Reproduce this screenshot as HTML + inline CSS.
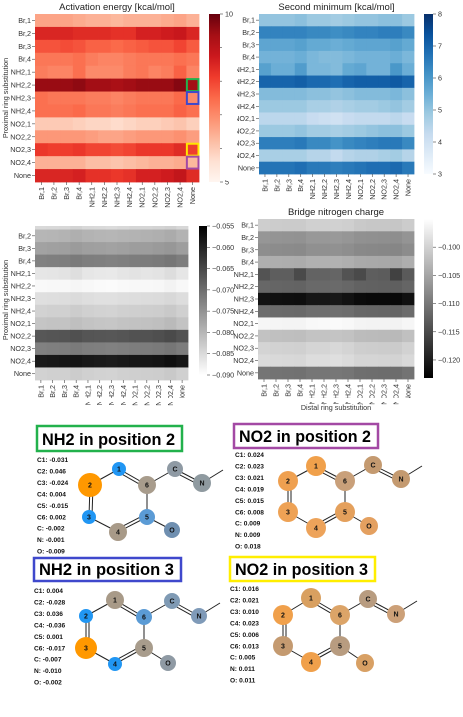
<!DOCTYPE html>
<html><head><meta charset="utf-8">
<style>
html,body{margin:0;padding:0;background:#fff;}
svg{display:block;font-family:"Liberation Sans",sans-serif;}
.t{font-size:7.2px;fill:#333;}
.ttl{font-size:9.5px;fill:#222;}
.q{font-size:6.6px;font-weight:bold;fill:#111;}
.hd{font-size:17px;font-weight:bold;fill:#000;}
.an{font-size:7px;font-weight:bold;fill:#111;}
</style></head>
<body>
<svg id="fig" width="463" height="717" viewBox="0 0 463 717" xmlns="http://www.w3.org/2000/svg"></svg>
<script>
const labels = ["Br,1","Br,2","Br,3","Br,4","NH2,1","NH2,2","NH2,3","NH2,4","NO2,1","NO2,2","NO2,3","NO2,4","None"];
// Activation energy [kcal/mol]
const actE = [
[6.6,6.6,6.6,6.5,6.4,6.4,6.3,6.4,6.4,6.4,6.5,6.6,6.4],
[8.5,8.5,8.5,8.4,8.4,8.4,8.3,8.3,8.6,8.6,8.7,8.8,8.5],
[7.8,7.8,7.9,7.8,7.6,7.6,7.5,7.6,7.7,7.8,7.8,8.0,7.7],
[7.3,7.3,7.3,7.4,7.2,7.1,7.1,7.2,7.3,7.3,7.3,7.4,7.3],
[7.2,7.1,7.1,7.4,7.0,7.0,7.0,7.2,7.3,7.1,7.2,7.6,7.1],
[9.5,9.5,9.5,9.6,9.4,9.4,9.3,9.4,9.5,9.5,9.5,9.7,9.4],
[7.4,7.3,7.3,7.3,7.2,7.2,7.1,7.2,7.3,7.3,7.3,7.5,7.0],
[7.4,7.4,7.4,7.5,7.3,7.3,7.2,7.3,7.4,7.4,7.4,7.6,7.4],
[6.0,6.0,6.0,5.9,5.8,5.8,5.7,5.8,5.9,5.9,6.0,6.1,5.9],
[6.8,6.8,6.8,6.8,6.7,6.6,6.6,6.7,6.8,6.8,6.8,6.9,6.7],
[8.2,8.1,8.1,8.2,8.0,8.0,7.9,8.0,8.2,8.2,8.2,8.4,8.1],
[6.4,6.4,6.4,6.4,6.2,6.2,6.1,6.2,6.3,6.4,6.4,6.5,6.3],
[8.5,8.5,8.5,8.6,8.3,8.3,8.2,8.3,8.6,8.6,8.7,8.9,8.4]];
// Second minimum [kcal/mol]
const secMin = [
[5.0,5.0,5.0,5.1,4.9,4.9,4.8,4.9,5.0,5.0,5.1,5.1,4.9],
[6.4,6.4,6.4,6.4,6.3,6.3,6.2,6.3,6.4,6.4,6.5,6.5,6.3],
[5.7,5.7,5.7,5.8,5.6,5.6,5.5,5.6,5.7,5.7,5.7,5.8,5.6],
[5.4,5.4,5.4,5.5,5.3,5.2,5.2,5.3,5.4,5.4,5.4,5.5,5.3],
[5.8,5.5,5.5,5.9,5.3,5.3,5.2,5.6,5.7,5.4,5.4,6.0,5.5],
[7.0,7.0,7.0,7.1,6.9,6.9,6.8,7.0,7.1,7.1,7.1,7.2,7.0],
[5.2,5.2,5.2,5.2,5.1,5.1,5.0,5.1,5.2,5.2,5.2,5.3,5.1],
[4.9,4.9,4.9,4.9,4.7,4.7,4.6,4.7,4.8,4.8,4.9,5.0,4.8],
[4.4,4.4,4.4,4.4,4.2,4.1,4.0,4.2,4.3,4.3,4.3,4.4,4.2],
[4.9,4.9,4.9,5.0,4.8,4.8,4.7,4.8,4.9,5.0,5.1,5.1,4.9],
[6.5,6.5,6.5,6.6,6.3,6.3,6.1,6.3,6.4,6.5,6.6,6.6,6.3],
[4.7,4.7,4.7,4.7,4.5,4.5,4.3,4.5,4.6,4.6,4.7,4.8,4.5],
[6.7,6.7,6.7,6.8,6.6,6.6,6.5,6.6,6.7,6.8,6.8,6.9,6.6]];
// Unlabeled (middle-left) charge
const chargeA = [
[-0.0848,-0.0846,-0.0845,-0.0840,-0.0846,-0.0848,-0.0850,-0.0846,-0.0843,-0.0842,-0.0840,-0.0835,-0.0845],
[-0.0800,-0.0798,-0.0796,-0.0790,-0.0796,-0.0798,-0.0800,-0.0797,-0.0795,-0.0793,-0.0790,-0.0785,-0.0795],
[-0.0772,-0.0770,-0.0768,-0.0763,-0.0768,-0.0770,-0.0772,-0.0769,-0.0766,-0.0765,-0.0762,-0.0757,-0.0767],
[-0.0727,-0.0725,-0.0723,-0.0718,-0.0723,-0.0725,-0.0727,-0.0724,-0.0721,-0.0720,-0.0717,-0.0712,-0.0722],
[-0.0866,-0.0864,-0.0862,-0.0855,-0.0866,-0.0868,-0.0870,-0.0864,-0.0862,-0.0864,-0.0862,-0.0853,-0.0866],
[-0.0892,-0.0891,-0.0890,-0.0887,-0.0891,-0.0893,-0.0895,-0.0892,-0.0890,-0.0890,-0.0889,-0.0884,-0.0890],
[-0.0856,-0.0855,-0.0854,-0.0850,-0.0855,-0.0857,-0.0858,-0.0855,-0.0853,-0.0852,-0.0850,-0.0846,-0.0854],
[-0.0838,-0.0836,-0.0835,-0.0830,-0.0836,-0.0838,-0.0840,-0.0836,-0.0834,-0.0833,-0.0831,-0.0826,-0.0835],
[-0.0820,-0.0818,-0.0817,-0.0812,-0.0818,-0.0820,-0.0822,-0.0818,-0.0816,-0.0815,-0.0812,-0.0805,-0.0817],
[-0.0670,-0.0667,-0.0665,-0.0660,-0.0666,-0.0668,-0.0670,-0.0666,-0.0663,-0.0662,-0.0658,-0.0652,-0.0662],
[-0.0727,-0.0725,-0.0723,-0.0718,-0.0723,-0.0725,-0.0727,-0.0724,-0.0721,-0.0720,-0.0717,-0.0712,-0.0722],
[-0.0585,-0.0583,-0.0580,-0.0577,-0.0583,-0.0585,-0.0588,-0.0584,-0.0581,-0.0580,-0.0577,-0.0570,-0.0580],
[-0.0838,-0.0836,-0.0835,-0.0830,-0.0836,-0.0838,-0.0840,-0.0836,-0.0834,-0.0833,-0.0831,-0.0826,-0.0835]];
// Bridge nitrogen charge
const bridgeN = [
[-0.1004,-0.1006,-0.1007,-0.1008,-0.1002,-0.1002,-0.1001,-0.1003,-0.1010,-0.1012,-0.1012,-0.1013,-0.1006],
[-0.1066,-0.1068,-0.1069,-0.1070,-0.1064,-0.1064,-0.1063,-0.1066,-0.1072,-0.1073,-0.1074,-0.1075,-0.1068],
[-0.1075,-0.1077,-0.1078,-0.1079,-0.1073,-0.1073,-0.1072,-0.1075,-0.1081,-0.1082,-0.1083,-0.1084,-0.1077],
[-0.1038,-0.1040,-0.1041,-0.1042,-0.1036,-0.1036,-0.1035,-0.1038,-0.1044,-0.1045,-0.1046,-0.1047,-0.1040],
[-0.1140,-0.1128,-0.1128,-0.1150,-0.1122,-0.1122,-0.1120,-0.1140,-0.1150,-0.1128,-0.1130,-0.1160,-0.1133],
[-0.1118,-0.1120,-0.1121,-0.1122,-0.1116,-0.1116,-0.1115,-0.1118,-0.1124,-0.1125,-0.1126,-0.1127,-0.1120],
[-0.1212,-0.1214,-0.1215,-0.1216,-0.1208,-0.1208,-0.1205,-0.1212,-0.1220,-0.1222,-0.1222,-0.1223,-0.1214],
[-0.1112,-0.1114,-0.1115,-0.1116,-0.1110,-0.1110,-0.1109,-0.1112,-0.1118,-0.1119,-0.1120,-0.1121,-0.1114],
[-0.0960,-0.0961,-0.0962,-0.0962,-0.0958,-0.0957,-0.0956,-0.0958,-0.0962,-0.0963,-0.0963,-0.0964,-0.0960],
[-0.1018,-0.1020,-0.1021,-0.1022,-0.1016,-0.1016,-0.1015,-0.1018,-0.1024,-0.1025,-0.1026,-0.1027,-0.1020],
[-0.0998,-0.1000,-0.1001,-0.1002,-0.0996,-0.0996,-0.0993,-0.0998,-0.1004,-0.1005,-0.1006,-0.1007,-0.1000],
[-0.0990,-0.0992,-0.0993,-0.0994,-0.0988,-0.0988,-0.0985,-0.0990,-0.0996,-0.0997,-0.0998,-0.0999,-0.0992],
[-0.1103,-0.1105,-0.1106,-0.1107,-0.1101,-0.1101,-0.1100,-0.1103,-0.1109,-0.1110,-0.1111,-0.1112,-0.1105]];
const actTicks = [5,6,7,8,9,10];
const secTicks = [3,4,5,6,7,8];
const chATicks = [-0.055,-0.060,-0.065,-0.070,-0.075,-0.080,-0.085,-0.090];
const brTicks = [-0.100,-0.105,-0.110,-0.115,-0.120];

const NS="http://www.w3.org/2000/svg";
const svg=document.getElementById('fig');
function mk(tag,attrs,parent){const e=document.createElementNS(NS,tag);for(const k in attrs)e.setAttribute(k,attrs[k]);(parent||svg).appendChild(e);return e;}
function lerpStops(stops,t){t=Math.max(0,Math.min(1,t));const n=stops.length-1;const i=Math.min(n-1,Math.floor(t*n));const f=t*n-i;
 const a=stops[i],b=stops[i+1];const h=s=>[parseInt(s.substr(1,2),16),parseInt(s.substr(3,2),16),parseInt(s.substr(5,2),16)];
 const A=h(a),B=h(b);return 'rgb('+A.map((v,k)=>Math.round(v+(B[k]-v)*f)).join(',')+')';}
const REDS=["#fff5f0","#fee0d2","#fcbba1","#fc9272","#fb6a4a","#ef3b2c","#cb181d","#a50f15","#67000d"];
const BLUES=["#f7fbff","#deebf7","#c6dbef","#9ecae1","#6baed6","#4292c6","#2171b5","#08519c","#08306b"];
const GRAYR=["#ffffff","#000000"];
const GRAY=["#000000","#ffffff"];

function heatmap(cfg){
 const g=mk('g',{});
 
 
 if(cfg.clip){const cp=mk('clipPath',{id:cfg.name+'-clip'},g);mk('rect',{x:0,y:cfg.clip,width:463,height:717},cp);}
 const cells=mk('g',cfg.clip?{'clip-path':'url(#'+cfg.name+'-clip)'}:{},g);
 const nR=cfg.data.length,nC=cfg.data[0].length;
 const cw=(cfg.x1-cfg.x0)/nC,ch=(cfg.y1-cfg.y0)/nR;
 const xS=j=>cfg.x0+j*cw, yS=i=>cfg.y0+i*ch;
 const col=v=>lerpStops(cfg.cmap,(v-cfg.vmin)/(cfg.vmax-cfg.vmin));
 for(let i=0;i<nR;i++)for(let j=0;j<nC;j++){
  const r=mk('rect',{x:xS(j),y:yS(i),width:cw+0.4,height:ch+0.4,fill:col(cfg.data[i][j])},cells);
  
  
 }
 for(let i=0;i<nR;i++){
  const y=yS(i)+ch/2; if(cfg.clip&&y<cfg.clip)continue;
  mk('line',{x1:cfg.x0-3,x2:cfg.x0,y1:y,y2:y,stroke:'#444','stroke-width':0.6},g);
  const t=mk('text',{x:cfg.x0-4,y:y+2.5,'text-anchor':'end',class:'t'},g);t.textContent=labels[i];
  
  
 }
 for(let j=0;j<nC;j++){
  const x=xS(j)+cw/2;
  mk('line',{x1:x,x2:x,y1:cfg.y1,y2:cfg.y1+3,stroke:'#444','stroke-width':0.6},g);
  const t=mk('text',{x:0,y:0,'text-anchor':'end',class:'t',transform:'translate('+(x+2.5)+','+(cfg.y1+5)+') rotate(-90)'},g);t.textContent=labels[j];
  
  
 }
 if(cfg.title){const t=mk('text',{x:(cfg.x0+cfg.x1)/2,y:cfg.y0-4,'text-anchor':'middle',class:'ttl'},g);t.textContent=cfg.title;
  
  }
 const cb=mk('g',{},g);
 
 
 const gid=cfg.name+'-grad';
 const lg=mk('linearGradient',{id:gid,x1:0,y1:1,x2:0,y2:0},cb);
 cfg.cmap.forEach((c,k)=>mk('stop',{offset:k/(cfg.cmap.length-1),'stop-color':c},lg));
 mk('rect',{x:cfg.cbx,y:cfg.cby0,width:cfg.cbw,height:cfg.cby1-cfg.cby0,fill:'url(#'+gid+')'},cb);
 const cy=v=>cfg.cby1-(v-cfg.cbmin)/(cfg.cbmax-cfg.cbmin)*(cfg.cby1-cfg.cby0);
 cfg.ticks.forEach(v=>{const y=cy(v);
  mk('line',{x1:cfg.cbx+cfg.cbw,x2:cfg.cbx+cfg.cbw+3,y1:y,y2:y,stroke:'#444','stroke-width':0.6},cb);
  const t=mk('text',{x:cfg.cbx+cfg.cbw+5,y:y+2.5,class:'t'},cb);t.textContent=cfg.fmt(v);
  
  });
 return {xS,yS,cw,ch};
}
const fmt0=v=>String(v);
const fmt3=v=>'\u2212'+Math.abs(v).toFixed(3);

const h1=heatmap({name:'activation-energy-heatmap',data:actE,cmap:REDS,vmin:5,vmax:10,x0:35,x1:199,y0:14,y1:182,title:'Activation energy [kcal/mol]',
 cbx:209,cbw:11,cby0:14,cby1:182,cbmin:5,cbmax:10,ticks:actTicks,fmt:fmt0});
const h2=heatmap({name:'second-minimum-heatmap',data:secMin,cmap:BLUES,vmin:3,vmax:8,x0:259,x1:414,y0:14,y1:174,title:'Second minimum [kcal/mol]',
 cbx:424,cbw:9,cby0:14,cby1:174,cbmin:3,cbmax:8,ticks:secTicks,fmt:fmt0});
const h3=heatmap({name:'charge-heatmap-left',data:chargeA,cmap:GRAYR,vmin:-0.090,vmax:-0.055,x0:35,x1:188,y0:217,y1:380,clip:226,
 cbx:199,cbw:8,cby0:226,cby1:375,cbmin:-0.090,cbmax:-0.055,ticks:chATicks,fmt:fmt3});
const h4=heatmap({name:'bridge-nitrogen-charge-heatmap',data:bridgeN,cmap:GRAY,vmin:-0.1232,vmax:-0.095,x0:258,x1:414,y0:219,y1:379,title:'Bridge nitrogen charge',
 cbx:424,cbw:9,cby0:219,cby1:378,cbmin:-0.1232,cbmax:-0.095,ticks:brTicks,fmt:fmt3});

mk('rect',{x:222,y:20,width:15,height:160,fill:'#fff'});
mk('rect',{x:0,y:398,width:463,height:4,fill:'#fff'});

[[5,'#22b14c'],[6,'#3f48cc'],[10,'#ffe600'],[11,'#a349a4']].forEach(([r,c])=>{
 const b=mk('rect',{x:h1.xS(12)+0.5,y:h1.yS(r)+0.5,width:h1.cw-1,height:h1.ch-1,fill:'none',stroke:c,'stroke-width':2});
 
 
});

function txt(x,y,s,cls,extra,name){const t=mk('text',Object.assign({x,y,class:cls},extra||{}));t.textContent=s;return t;}
txt(0,0,'Proximal ring substitution','t',{'text-anchor':'middle',transform:'translate(8,98) rotate(-90)'},'y-axis-title');
txt(0,0,'Proximal ring substitution','t',{'text-anchor':'middle',transform:'translate(8,300) rotate(-90)'},'y-axis-title-lower');
txt(336,410,'Distal ring substitution','t',{'text-anchor':'middle'},'x-axis-title');

function molecule(cfg){
 const g=mk('g',{});
 
 
 mk('rect',{x:cfg.box[0],y:cfg.box[1],width:cfg.box[2],height:cfg.box[3],fill:'#fff',stroke:cfg.bc,'stroke-width':2.5},g);
 const h=mk('text',{x:cfg.box[0]+5,y:cfg.box[1]+cfg.box[3]-6,class:'hd',textLength:cfg.box[2]-12,lengthAdjust:'spacingAndGlyphs'},g);h.textContent=cfg.title;
 
 
 cfg.charges.forEach((s,k)=>{const t=mk('text',{x:cfg.tx,y:cfg.ty+k*11.45,class:'q'},g);t.textContent=s;
  
  });
 const A=cfg.atoms;
 const bonds=[['1','2',0],['2','3',1],['3','4',0],['4','5',1],['5','6',0],['6','1',1],['6','C',0],['C','N',1],['5','O',0]];
 bonds.forEach(([a,b,d])=>{
  const p=A[a],q=A[b];
  mk('line',{x1:p[0],y1:p[1],x2:q[0],y2:q[1],stroke:'#222','stroke-width':1},g);
  if(d){const dx=q[0]-p[0],dy=q[1]-p[1],L=Math.hypot(dx,dy),nx=-dy/L*3,ny=dx/L*3;
   const cx=(p[0]+q[0])/2+nx,cy=(p[1]+q[1])/2+ny;const ox=(p[0]+q[0])/2-nx,oy=(p[1]+q[1])/2-ny;
   const c6=[(A['1'][0]+A['4'][0])/2,(A['1'][1]+A['4'][1])/2];
   const s=Math.hypot(cx-c6[0],cy-c6[1])<Math.hypot(ox-c6[0],oy-c6[1])?1:-1;
   mk('line',{x1:p[0]+s*nx+dx*0.15,y1:p[1]+s*ny+dy*0.15,x2:q[0]+s*nx-dx*0.15,y2:q[1]+s*ny-dy*0.15,stroke:'#222','stroke-width':1},g);}
 });
 mk('line',{x1:A['N'][0],y1:A['N'][1],x2:A['N'][0]+21,y2:A['N'][1]-13,stroke:'#222','stroke-width':1},g);
 Object.keys(A).forEach(k=>{const [x,y,r,c]=A[k];
  const ci=mk('circle',{cx:x,cy:y,r:r,fill:c},g);
  
  
  const t=mk('text',{x:x,y:y+2.4,'text-anchor':'middle',class:'an'},g);t.textContent=k;});
}
molecule({name:'nh2-position-2',title:'NH2 in position 2',bc:'#22b14c',box:[37,426,145,25],tx:37,ty:462,
 charges:['C1: -0.031','C2: 0.046','C3: -0.024','C4: 0.004','C5: -0.015','C6: 0.002','C: -0.002','N: -0.001','O: -0.009'],
 atoms:{'1':[119,469,7,'#2196f3'],'2':[90,485,12,'#ff9800'],'3':[89,517,7,'#2196f3'],'4':[118,532,9,'#a89a88'],'5':[147,517,8,'#5b9bd5'],'6':[147,485,9,'#a89c8c'],'C':[175,469,8,'#8f9aa4'],'N':[202,483,9,'#8f9aa0'],'O':[172,530,8,'#6f8fb0']}});
molecule({name:'no2-position-2',title:'NO2 in position 2',bc:'#a349a4',box:[234,424,144,24],tx:235,ty:457,
 charges:['C1: 0.024','C2: 0.023','C3: 0.021','C4: 0.019','C5: 0.015','C6: 0.008','C: 0.009','N: 0.009','O: 0.018'],
 atoms:{'1':[316,466,10,'#f0a04b'],'2':[288,481,10,'#efa050'],'3':[288,512,10,'#eea255'],'4':[316,528,10,'#eda35a'],'5':[345,512,10,'#e4a05c'],'6':[345,481,10,'#c9a07a'],'C':[373,465,9,'#c49a70'],'N':[401,479,9,'#c49a70'],'O':[369,526,9,'#e4a060']}});
molecule({name:'nh2-position-3',title:'NH2 in position 3',bc:'#3f48cc',box:[34,558,147,23],tx:34,ty:593,
 charges:['C1: 0.004','C2: -0.028','C3: 0.036','C4: -0.036','C5: 0.001','C6: -0.017','C: -0.007','N: -0.010','O: -0.002'],
 atoms:{'1':[115,600,9,'#a89a88'],'2':[86,616,7,'#2196f3'],'3':[86,648,11,'#ff9800'],'4':[115,664,7,'#2196f3'],'5':[144,648,9,'#a89c8c'],'6':[144,617,8,'#5b9bd5'],'C':[172,601,8,'#7f9ab4'],'N':[199,616,8,'#7f9ab8'],'O':[168,663,8,'#8f9aa4']}});
molecule({name:'no2-position-3',title:'NO2 in position 3',bc:'#ffee00',box:[230,557,145,24],tx:230,ty:591,
 charges:['C1: 0.016','C2: 0.021','C3: 0.010','C4: 0.023','C5: 0.006','C6: 0.013','C: 0.005','N: 0.011','O: 0.011'],
 atoms:{'1':[311,598,10,'#d9a060'],'2':[283,615,10,'#f0a04b'],'3':[283,646,10,'#c49a70'],'4':[311,662,10,'#f0a04b'],'5':[340,646,10,'#b89c80'],'6':[340,615,10,'#dca468'],'C':[368,599,9,'#b89c80'],'N':[396,614,9,'#cca078'],'O':[365,663,9,'#d8a064']}});
</script>
</body></html>
